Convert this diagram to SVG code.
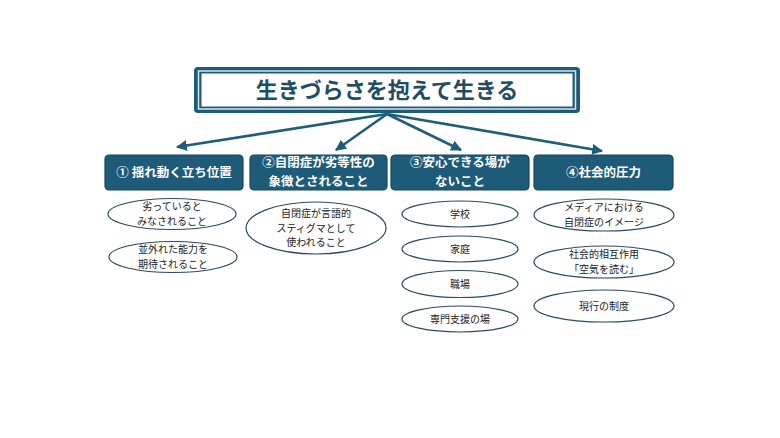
<svg xmlns="http://www.w3.org/2000/svg" width="780" height="438" viewBox="0 0 780 438">
<style>
.jp{font-family:"Noto Sans CJK JP","Noto Sans CJK SC",sans-serif;}
.cat rect{fill:#1e5b78;stroke:#16465d;stroke-width:1.2;}
.cat text{fill:#ffffff;font-size:12.5px;font-weight:bold;text-anchor:middle;}
.sub ellipse{fill:#ffffff;stroke:#2c4b5c;stroke-width:1.2;}
.sub text{fill:#222222;font-size:10px;text-anchor:middle;}
.conn line{stroke:#1f5e7b;stroke-width:2.6;fill:none;}
</style>
<defs>
<marker id="ah" viewBox="0 0 10 10" refX="9" refY="5" markerWidth="11" markerHeight="11" markerUnits="userSpaceOnUse" orient="auto">
<path d="M0,0 L10,5 L0,10 Z" fill="#1f5e7b"/>
</marker>
</defs>
<rect width="780" height="438" fill="#ffffff"/>
<g id="title">
<rect x="194" y="67" width="386" height="46" rx="4" fill="#1e5b78"/>
<rect x="198.5" y="71" width="377" height="38" fill="none" stroke="#d6e4ec" stroke-width="1.5"/>
<rect x="201.5" y="73.5" width="371" height="33" fill="#ffffff"/>
<text class="jp" x="387" y="98" font-size="22" font-weight="bold" fill="#1f4e63" text-anchor="middle">生きづらさを抱えて生きる</text>
</g>
<g id="connectors" class="conn">
<line x1="387" y1="114" x2="177" y2="147" marker-end="url(#ah)"/>
<line x1="387" y1="114" x2="336" y2="150" marker-end="url(#ah)"/>
<line x1="387" y1="114" x2="461" y2="150" marker-end="url(#ah)"/>
<line x1="387" y1="114" x2="602" y2="151" marker-end="url(#ah)"/>
</g>
<g id="cat1" class="cat jp">
<rect x="105" y="155" width="138" height="35" rx="4"/>
<text x="174" y="177">① 揺れ動く立ち位置</text>
</g>
<g id="cat2" class="cat jp">
<rect x="250" y="155" width="137" height="35" rx="4"/>
<text x="318.5" y="167">②自閉症が劣等性の</text>
<text x="318.5" y="185.5">象徴とされること</text>
</g>
<g id="cat3" class="cat jp">
<rect x="391" y="155" width="138" height="35" rx="4"/>
<text x="460" y="167">③安心できる場が</text>
<text x="460" y="185.5">ないこと</text>
</g>
<g id="cat4" class="cat jp">
<rect x="534" y="155" width="139" height="35" rx="4"/>
<text x="603.5" y="177">④社会的圧力</text>
</g>
<g id="s1a" class="sub jp">
<ellipse cx="172" cy="214" rx="64" ry="15.5"/>
<text x="172" y="210">劣っていると</text>
<text x="172" y="224.5">みなされること</text>
</g>
<g id="s1b" class="sub jp">
<ellipse cx="173" cy="257" rx="64" ry="15.5"/>
<text x="173" y="253">並外れた能力を</text>
<text x="173" y="267.5">期待されること</text>
</g>
<g id="s2a" class="sub jp">
<ellipse cx="316" cy="228" rx="70" ry="26"/>
<text x="316" y="217">自閉症が言語的</text>
<text x="316" y="231.5">スティグマとして</text>
<text x="316" y="246">使われること</text>
</g>
<g id="s3a" class="sub jp">
<ellipse cx="460" cy="214" rx="58" ry="13"/>
<text x="460" y="218">学校</text>
</g>
<g id="s3b" class="sub jp">
<ellipse cx="460" cy="249" rx="58" ry="13"/>
<text x="460" y="253">家庭</text>
</g>
<g id="s3c" class="sub jp">
<ellipse cx="460" cy="284" rx="58" ry="13.5"/>
<text x="460" y="288">職場</text>
</g>
<g id="s3d" class="sub jp">
<ellipse cx="460" cy="319" rx="58" ry="13"/>
<text x="460" y="323">専門支援の場</text>
</g>
<g id="s4a" class="sub jp">
<ellipse cx="604" cy="215" rx="70" ry="16"/>
<text x="604" y="211">メディアにおける</text>
<text x="604" y="225.5">自閉症のイメージ</text>
</g>
<g id="s4b" class="sub jp">
<ellipse cx="604" cy="262" rx="70" ry="16"/>
<text x="604" y="258">社会的相互作用</text>
<text x="604" y="272.5">「空気を読む」</text>
</g>
<g id="s4c" class="sub jp">
<ellipse cx="604" cy="306" rx="70" ry="16"/>
<text x="604" y="310">現行の制度</text>
</g>
</svg>
